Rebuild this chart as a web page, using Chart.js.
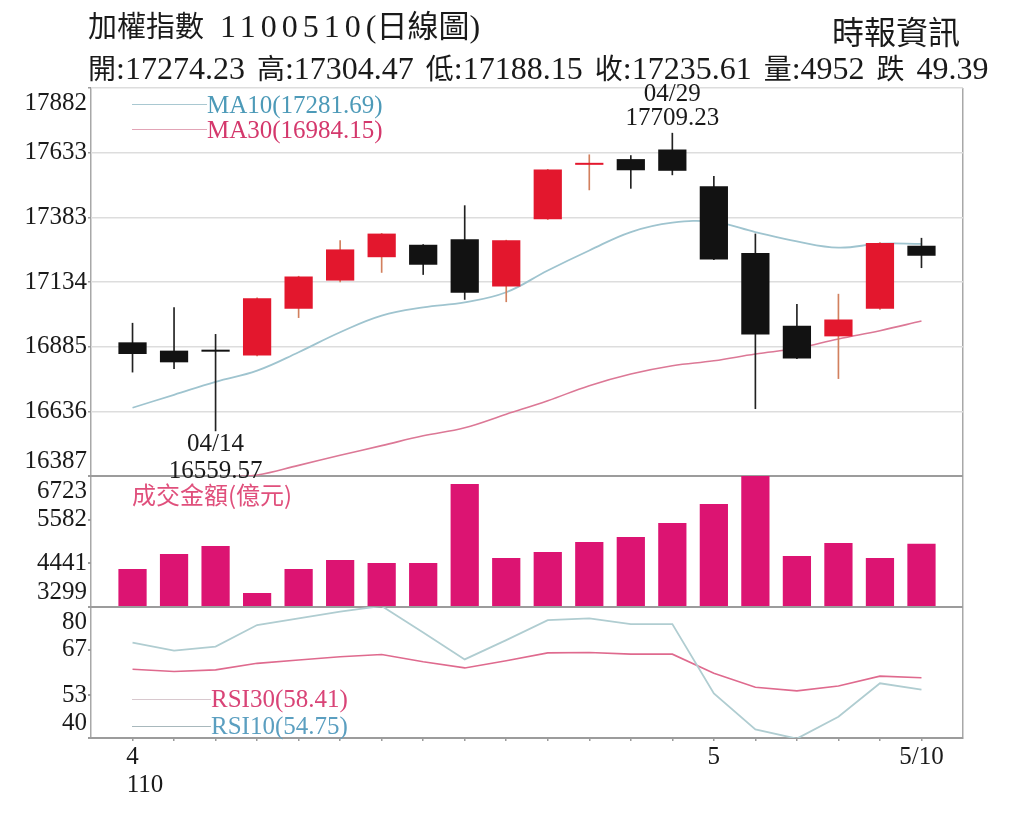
<!DOCTYPE html>
<html lang="zh-Hant">
<head>
<meta charset="utf-8">
<title>加權指數 日線圖</title>
<script src="https://cdn.jsdelivr.net/npm/chart.js@4.4.1/dist/chart.umd.min.js"></script>
<style>
html,body{margin:0;padding:0;background:#fff;}
#wrap{position:relative;width:1024px;height:824px;overflow:hidden;background:#fff;}
#c{position:absolute;left:0;top:0;}
.txt{position:absolute;white-space:nowrap;font-family:"Liberation Serif","Noto Sans CJK TC",serif;color:#1a1a1a;}
.cjk{font-family:"Noto Sans CJK TC",sans-serif;}
.leg{position:absolute;height:0;}
</style>
</head>
<body>
<div id="wrap">
<canvas id="c" width="1024" height="824"></canvas>
<div id="t1" class="txt" style="left:88px;top:4px;height:40px;line-height:40px;font-size:32px;"></div>
<div id="t2" class="txt" style="left:88px;top:47px;height:40px;line-height:40px;font-size:32px;word-spacing:4px;"></div>
<div id="src" class="txt cjk" style="left:832px;top:10px;height:40px;line-height:40px;font-size:32px;"></div>
<div class="leg" style="left:132px;top:104px;width:75px;border-top:1.5px solid #a9c8d1;"></div>
<div id="legMA10" class="txt" style="left:207px;top:90px;height:30px;line-height:30px;font-size:25px;color:#4d9ab8;"></div>
<div class="leg" style="left:132px;top:129px;width:75px;border-top:1.5px solid #e2a4b6;"></div>
<div id="legMA30" class="txt" style="left:207px;top:115px;height:30px;line-height:30px;font-size:25px;color:#d4386c;"></div>
<div id="legVol" class="txt cjk" style="left:132px;top:479px;height:30px;line-height:30px;font-size:24px;color:#e0507c;"></div>
<div class="leg" style="left:132px;top:699px;width:79px;border-top:1.5px solid #d8c8ce;"></div>
<div id="legRSI30" class="txt" style="left:211px;top:684px;height:30px;line-height:30px;font-size:25px;color:#d94477;"></div>
<div class="leg" style="left:132px;top:726px;width:79px;border-top:1.5px solid #a8b8bc;"></div>
<div id="legRSI10" class="txt" style="left:211px;top:711px;height:30px;line-height:30px;font-size:25px;color:#5b9fc0;"></div>
</div>
<script>
// ---------------- data ----------------
const dates = ['04/12','04/13','04/14','04/15','04/16','04/19','04/20','04/21','04/22','04/23',
               '04/26','04/27','04/28','04/29','05/03','05/04','05/05','05/06','05/07','05/10'];
const xTickLabels = ['4','','','','','','','','','','','','','','5','','','','','5/10'];
const yearLabel = '110';

const openP  = [16902,16870,16868,16851,17031,17140,17230,17278,17299,17117,
                17376,17586,17608,17645,17503,17246,16966,16925,17031,17274.23];
const highP  = [16977,17037,16934,17075,17158,17295,17323,17280,17430,17297,
                17570,17626,17623,17709.23,17543,17321,17050,17089,17288,17304.47];
const lowP   = [16786,16799,16559.57,16848,16996,17134,17170,17162,17066,17057,
                17374,17488,17494,17546,17219,16645,16838,16761,17028,17188.15];
const closeP = [16857,16825,16866,17072,17156,17260,17321,17201,17093,17295,
                17568,17590,17565,17563,17221,16932,16840,16990,17285.00,17235.61];

const volume = [4292,4684,4893,3665,4292,4527,4449,4449,6514,4580,
                4737,4998,5129,5495,5991,6730,4632,4972,4580,4952];

const ma10 = [16650,16700,16750,16793,16864,16941,17005,17037,17056,17095,
              17179,17256,17327,17363,17366,17327,17291,17267,17282,17281.69];
const ma30 = [16375,16378,16383,16391,16428,16467,16504,16542,16573,16625,
              16677,16735,16780,16812,16831,16857,16879,16915,16947,16984.15];

const rsi10 = [69.1,66.7,67.9,74.5,76.5,78.6,80.3,72.2,64.0,69.9,
               76.0,76.5,74.8,74.8,53.6,42.6,39.8,46.5,56.7,54.75];
const rsi30 = [61.0,60.3,60.8,62.8,63.8,64.8,65.5,63.3,61.4,63.6,
               66.0,66.1,65.6,65.6,59.8,55.5,54.4,55.9,58.9,58.41];

const priceTicks  = [16387,16636,16885,17134,17383,17633,17882];
const volumeTicks = [3299,4441,5582,6723];
const rsiTicks    = [40,53,67,80];

const titleName = '加權指數', dateCode = '1100510', chartKind = '日線圖', source = '時報資訊';
const volTitle = '成交金額(億元)';

// ---------------- styles ----------------
const RED = '#e3172d', BLACK = '#121212', WICK_RED = '#d2805e', WICK_BLACK = '#222222';
const MAG = '#dc1472';
const MA10C = '#9fc4cf', MA30C = '#dc7896', RSI10C = '#b0cdd1', RSI30C = '#df6a8e';
const GRID = '#dddddd', DIV = '#9c9c9c', FRAME = '#a8a8a8', TXT = '#1a1a1a';

// ---------------- text overlays ----------------
const n = dates.length, last = n - 1;
const cj = (s, size) => `<span class="cjk"${size ? ` style="font-size:${size}px"` : ''}>${s}</span>`;
document.getElementById('t1').innerHTML =
  cj(titleName, 29) + `<span style="margin-left:16px;letter-spacing:5px">${dateCode}</span>(` + cj(chartKind, 31) + ')';
const chg = closeP[last] - closeP[last - 1];
const parts = [['開', openP[last].toFixed(2)], ['高', highP[last].toFixed(2)], ['低', lowP[last].toFixed(2)],
               ['收', closeP[last].toFixed(2)], ['量', String(volume[last])]];
document.getElementById('t2').innerHTML =
  parts.map(p => cj(p[0], 28) + ':' + p[1]).join(' ') + ' ' + cj(chg < 0 ? '跌' : '漲', 28) + ' ' + Math.abs(chg).toFixed(2);
document.getElementById('src').textContent = source;
document.getElementById('legMA10').textContent = `MA10(${ma10[last].toFixed(2)})`;
document.getElementById('legMA30').textContent = `MA30(${ma30[last].toFixed(2)})`;
document.getElementById('legVol').textContent = volTitle;
document.getElementById('legRSI30').textContent = `RSI30(${rsi30[last].toFixed(2)})`;
document.getElementById('legRSI10').textContent = `RSI10(${rsi10[last].toFixed(2)})`;

// ---------------- chart ----------------
const xs = dates.map((_, i) => i);
const isUp = i => closeP[i] >= openP[i];
const FONT = '"Liberation Serif", "Noto Sans CJK TC", serif';
Chart.defaults.font.family = FONT;

const fixedTicks = list => s => { s.ticks = list.map(v => ({value: v})); };
const endLabels = list => v => {
  if (v === list[0]) return [String(v), ''];
  if (v === list[list.length - 1]) return ['', String(v)];
  return String(v);
};
const yTickOpts = list => ({
  autoSkip: false, padding: 1, color: TXT,
  font: {family: FONT, size: 25, lineHeight: 1.2},
  callback: endLabels(list)
});

const clipPanels = {
  id: 'clipPanels',
  beforeDatasetDraw(chart, args) {
    const a = chart.chartArea, ys = args.meta.yScale, ctx = chart.ctx;
    ctx.save();
    ctx.beginPath();
    ctx.rect(a.left, ys.top, a.right - a.left, ys.bottom - ys.top);
    ctx.clip();
  },
  afterDatasetDraw(chart) { chart.ctx.restore(); }
};

const extremes = {
  id: 'extremes',
  afterDatasetsDraw(chart) {
    const ctx = chart.ctx, x = chart.scales.x, y = chart.scales.y;
    const li = lowP.indexOf(Math.min(...lowP));
    const hi = highP.indexOf(Math.max(...highP));
    ctx.save();
    ctx.font = '25px ' + FONT;
    ctx.fillStyle = TXT;
    ctx.textAlign = 'center';
    ctx.textBaseline = 'middle';
    const lx = x.getPixelForValue(li), ly = y.getPixelForValue(lowP[li]);
    ctx.fillText(dates[li], lx, ly + 13);
    ctx.fillText(lowP[li].toFixed(2), lx, ly + 40);
    const hx = x.getPixelForValue(hi), hy = y.getPixelForValue(highP[hi]);
    ctx.fillText(dates[hi], hx, hy - 38);
    ctx.fillText(highP[hi].toFixed(2), hx, hy - 14);
    ctx.restore();
  }
};

new Chart(document.getElementById('c'), {
  type: 'bar',
  data: {
    datasets: [
      {
        type: 'bar', label: 'body', yAxisID: 'y', grouped: false, order: 1,
        data: xs.map(i => ({x: i, y: [openP[i], closeP[i]]})),
        backgroundColor: c => isUp(c.dataIndex) ? RED : BLACK,
        categoryPercentage: 1, barPercentage: 0.68, minBarLength: 2, borderWidth: 0
      },
      {
        type: 'bar', label: 'wick', yAxisID: 'y', grouped: false, order: 2,
        data: xs.map(i => ({x: i, y: [lowP[i], highP[i]]})),
        backgroundColor: c => isUp(c.dataIndex) ? WICK_RED : WICK_BLACK,
        categoryPercentage: 1, barPercentage: 0.04, borderWidth: 0
      },
      {
        type: 'line', label: 'MA10', yAxisID: 'y', order: 3,
        data: xs.map(i => ({x: i, y: ma10[i]})),
        borderColor: MA10C, borderWidth: 1.8, pointRadius: 0, tension: 0.4, fill: false
      },
      {
        type: 'line', label: 'MA30', yAxisID: 'y', order: 4,
        data: xs.map(i => ({x: i, y: ma30[i]})),
        borderColor: MA30C, borderWidth: 1.6, pointRadius: 0, tension: 0.4, fill: false
      },
      {
        type: 'bar', label: 'volume', yAxisID: 'yv', grouped: false, order: 5,
        data: xs.map(i => ({x: i, y: volume[i]})),
        base: volumeTicks[0],
        backgroundColor: MAG, categoryPercentage: 1, barPercentage: 0.68, borderWidth: 0
      },
      {
        type: 'line', label: 'RSI10', yAxisID: 'yr', order: 6,
        data: xs.map(i => ({x: i, y: rsi10[i]})),
        borderColor: RSI10C, borderWidth: 1.8, pointRadius: 0, tension: 0, fill: false
      },
      {
        type: 'line', label: 'RSI30', yAxisID: 'yr', order: 7,
        data: xs.map(i => ({x: i, y: rsi30[i]})),
        borderColor: RSI30C, borderWidth: 1.6, pointRadius: 0, tension: 0, fill: false
      }
    ]
  },
  options: {
    responsive: false, animation: false, events: [],
    layout: {padding: {left: 0, top: 88, right: 61, bottom: 0}},
    plugins: {legend: {display: false}, tooltip: {enabled: false}, title: {display: false}},
    scales: {
      x: {
        type: 'linear', min: -1, max: n, offset: false, stacked: false,
        afterBuildTicks: s => { const t = []; for (let v = -1; v <= n; v++) t.push({value: v}); s.ticks = t; },
        afterFit: s => { s.height = 86; },
        ticks: {
          autoSkip: false, maxRotation: 0, minRotation: 0, padding: 2, color: TXT,
          font: {family: FONT, size: 25, lineHeight: 1.12},
          callback: v => {
            if (v < 0 || v >= n) return '';
            if (v === 0) return [xTickLabels[0], '\u00a0\u00a0\u00a0\u00a0' + yearLabel];
            return xTickLabels[v];
          }
        },
        grid: {
          offset: false, lineWidth: 1.5, tickLength: 3,
          color: c => (c.tick && (c.tick.value === -1 || c.tick.value === n)) ? FRAME : 'rgba(0,0,0,0)',
          tickColor: c => (c.tick && c.tick.value >= 0 && c.tick.value < n) ? DIV : 'rgba(0,0,0,0)'
        },
        border: {display: true, color: DIV, width: 2}
      },
      y: {
        type: 'linear', axis: 'y', position: 'left', stack: 'panels', stackWeight: 388, weight: 3,
        min: priceTicks[0], max: priceTicks[priceTicks.length - 1], beginAtZero: false, stacked: false,
        afterBuildTicks: fixedTicks(priceTicks),
        afterFit: s => { s.width = 91; },
        ticks: yTickOpts(priceTicks),
        grid: {
          tickLength: 3, tickColor: DIV,
          color: c => (c.tick && c.tick.value === priceTicks[0]) ? DIV : GRID,
          lineWidth: c => (c.tick && c.tick.value === priceTicks[0]) ? 2 : 1.5
        },
        border: {display: false}
      },
      yv: {
        type: 'linear', axis: 'y', position: 'left', stack: 'panels', stackWeight: 131, weight: 2,
        min: volumeTicks[0], max: volumeTicks[volumeTicks.length - 1], beginAtZero: false, stacked: false,
        afterBuildTicks: fixedTicks(volumeTicks),
        afterFit: s => { s.width = 91; },
        ticks: yTickOpts(volumeTicks),
        grid: {
          tickLength: 3, tickColor: DIV, lineWidth: 2,
          color: c => (c.tick && (c.tick.value === volumeTicks[0] || c.tick.value === volumeTicks[volumeTicks.length - 1])) ? DIV : 'rgba(0,0,0,0)'
        },
        border: {display: false}
      },
      yr: {
        type: 'linear', axis: 'y', position: 'left', stack: 'panels', stackWeight: 131, weight: 1,
        min: rsiTicks[0], max: rsiTicks[rsiTicks.length - 1], beginAtZero: false, stacked: false,
        afterBuildTicks: fixedTicks(rsiTicks),
        afterFit: s => { s.width = 91; },
        ticks: yTickOpts(rsiTicks),
        grid: {
          tickLength: 3, tickColor: DIV, lineWidth: 2,
          color: c => (c.tick && c.tick.value === rsiTicks[rsiTicks.length - 1]) ? DIV : 'rgba(0,0,0,0)'
        },
        border: {display: false}
      }
    }
  },
  plugins: [clipPanels, extremes]
});
</script>
</body>
</html>
